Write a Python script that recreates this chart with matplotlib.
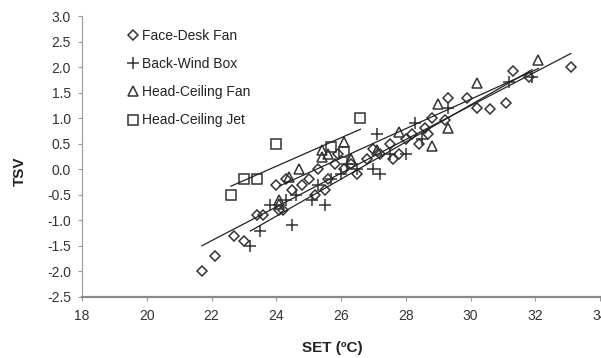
import numpy as np
import matplotlib
matplotlib.use('Agg')
import matplotlib.pyplot as plt

plt.rcParams['font.family'] = ['Liberation Sans', 'DejaVu Sans']

# data (SET in degC, TSV)
desk_x = [21.7, 22.1, 22.7, 23.0, 23.4, 23.6, 24.0, 24.1, 24.2, 24.3, 24.5, 24.8, 25.0, 25.2,
          25.3, 25.5, 25.6, 25.8, 25.9, 26.1, 26.3, 26.5, 26.8, 27.0, 27.2, 27.5, 27.6, 27.8,
          28.0, 28.2, 28.4, 28.6, 28.7, 28.8, 29.2, 29.3, 29.9, 30.2, 30.6, 31.1, 31.3, 31.8, 33.1]
desk_y = [-2.0, -1.7, -1.3, -1.4, -0.9, -0.9, -0.3, -0.8, -0.8, -0.2, -0.4, -0.3, -0.2, -0.5,
          0.0, -0.4, -0.2, 0.1, 0.3, 0.0, 0.1, -0.1, 0.2, 0.4, 0.3, 0.5, 0.2, 0.3,
          0.6, 0.7, 0.5, 0.8, 0.7, 1.0, 0.96, 1.4, 1.4, 1.2, 1.17, 1.3, 1.92, 1.8, 2.0]

box_x = [23.2, 23.5, 23.8, 24.5, 24.3, 24.6, 25.1, 25.5, 25.3, 25.7, 26.0, 26.2, 26.5,
         27.0, 27.2, 27.1, 27.5, 28.0, 28.3, 28.5, 29.3, 31.2, 31.9]
box_y = [-1.5, -1.2, -0.7, -1.1, -0.6, -0.5, -0.6, -0.7, -0.3, -0.2, -0.1, 0.1, 0.0,
         0.0, -0.1, 0.7, 0.3, 0.3, 0.9, 0.6, 1.2, 1.7, 1.8]

fan_x = [24.1, 24.1, 24.4, 24.7, 25.4, 25.4, 25.6, 26.1, 26.3, 27.1, 27.8, 28.8, 29.0, 29.3, 30.2, 32.1]
fan_y = [-0.67, -0.6, -0.15, 0.0, 0.24, 0.37, 0.3, 0.53, 0.2, 0.37, 0.73, 0.45, 1.27, 0.8, 1.68, 2.13]

jet_x = [22.6, 23.0, 23.4, 24.0, 25.7, 26.1, 26.6]
jet_y = [-0.5, -0.2, -0.2, 0.5, 0.43, 0.33, 1.0]

series = [
    ('Face-Desk Fan', desk_x, desk_y, 'D', 5.5),
    ('Back-Wind Box', box_x, box_y, '+', 8),
    ('Head-Ceiling Fan', fan_x, fan_y, '^', 7),
    ('Head-Ceiling Jet', jet_x, jet_y, 's', 7),
]

fig = plt.figure(figsize=(6.01, 3.58), dpi=100)
ax = fig.add_axes([82 / 601, 61 / 358, 518 / 601, 281 / 358])

ec = '#333333'
for name, x, y, m, ms in series:
    ax.plot(x, y, linestyle='none', marker=m, markersize=ms, markerfacecolor='none',
            markeredgecolor=ec, markeredgewidth=1.1, label=name)
    # linear trend line over the series range
    k, b = np.polyfit(x, y, 1)
    xs = np.array([min(x), max(x)])
    ax.plot(xs, k * xs + b, color='#222222', lw=0.9)

ax.set_xlim(18, 34)
ax.set_ylim(-2.5, 3.0)
ax.set_xticks(range(18, 35, 2))
ax.set_yticks(np.arange(-2.5, 3.01, 0.5))
ax.set_yticklabels([f'{v:.1f}' for v in np.arange(-2.5, 3.01, 0.5)])

for s in ['top', 'right']:
    ax.spines[s].set_visible(False)
ax.spines['left'].set_color('#9a9a9a')
ax.spines['bottom'].set_color('#8a8a8a')
ax.spines['bottom'].set_linewidth(1.6)
ax.tick_params(axis='both', colors='#9a9a9a', labelcolor='#333333', labelsize=10,
               length=3, width=0.8, direction='out')
ax.tick_params(axis='x', pad=6)
ax.tick_params(axis='y', pad=5)

fig.text(332 / 601, 1 - 348 / 358, 'SET (ºC)', ha='center', va='center',
         fontsize=11, fontweight='bold', color='#222222')
fig.text(20 / 601, 1 - 171 / 358, 'TSV', ha='center', va='center', rotation=90,
         fontsize=11, fontweight='bold', color='#222222')

ax.legend(loc='upper left', bbox_to_anchor=(121 / 601, 1 - 22 / 358),
          bbox_transform=fig.transFigure, frameon=False, fontsize=10,
          handlelength=0.8, handletextpad=0.2, labelspacing=1.02, borderpad=0,
          labelcolor='#222222')

fig.savefig('out.png', dpi=100)
